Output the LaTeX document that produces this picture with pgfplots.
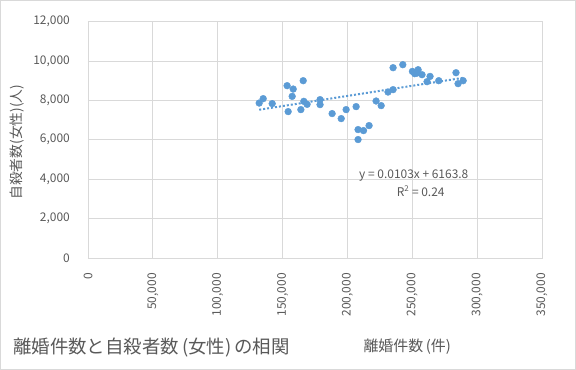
\documentclass[border=0pt]{standalone}
\usepackage{pgfplots}
\pgfplotsset{compat=1.18}
\usepackage{fontspec}
\setmainfont{Noto Sans CJK JP}
\definecolor{dotblue}{HTML}{5B9BD5}
\definecolor{gridgray}{HTML}{D9D9D9}
\definecolor{txtgray}{HTML}{595959}
\begin{document}
\begin{tikzpicture}
\useasboundingbox (-88bp,-112bp) rectangle (488bp,258bp);
\draw[gridgray, line width=0.8bp] (-87.5bp,-111.5bp) rectangle (487.5bp,257.5bp);
\begin{axis}[
  at={(0,0)}, anchor=south west,
  scale only axis, width=454bp, height=236.5bp,
  xmin=0, xmax=350000, ymin=0, ymax=12000,
  xtick={0,50000,100000,150000,200000,250000,300000,350000}, ytick={0,2000,4000,6000,8000,10000,12000},
  scaled x ticks=false, scaled y ticks=false,
  /pgf/number format/.cd, fixed, precision=0, 1000 sep={,}, assume math mode=true, /pgfplots/.cd,
  grid=major, major grid style={gridgray, line width=0.8bp},
  axis line style={gridgray, line width=0.8bp},
  major tick length=0pt,
  tick label style={font=\fontsize{12}{14}\selectfont, text=txtgray},
  xticklabel style={rotate=90, anchor=east, inner sep=0pt},
  xticklabel shift=15bp,
  yticklabel style={anchor=east, inner sep=0pt},
  yticklabel shift=18bp,
  xlabel={離婚件数\,(件)},
  xlabel style={at={(axis description cs:0.703,-0.376)}, anchor=center, font=\fontsize{15}{17}\selectfont, text=txtgray},
  ylabel={自殺者数(女性)(人)},
  ylabel style={at={(axis description cs:-0.156,0.49)}, anchor=center, rotate=0, font=\fontsize{13.8}{16}\selectfont, text=txtgray},
  clip=false,
]
\addplot[only marks, mark=*, mark size=3.4bp, mark options={draw=dotblue, fill=dotblue}] coordinates {
(131970,7863) (135050,8086) (142000,7833) (153500,8744) (154300,7428)
(158200,8572) (157400,8203) (165900,8997) (164100,7529) (166400,7949)
(168900,7797) (178900,8035) (178900,7782) (188200,7327) (195200,7073)
(199000,7529) (206700,7681) (208200,6516) (208200,6010) (212400,6465)
(216700,6718) (222100,7965) (226000,7732) (231300,8421) (235200,8542)
(235200,9656) (242700,9808) (250100,9468) (251900,9352) (254500,9554)
(253700,9383) (257500,9301) (263700,9215) (261400,8947) (270400,8997)
(283700,9402) (285300,8846) (289200,8997)
};
\addplot[dotblue, line width=2bp, dash pattern=on 2bp off 2bp] coordinates {(131970,7523) (289200,9142)};
\node[font=\fontsize{12}{14}\selectfont, text=txtgray] at (axis cs:251150,4200) {y = 0.0103x + 6163.8};
\node[font=\fontsize{12}{14}\selectfont, text=txtgray] at (axis cs:256500,3392) {R\textsuperscript{2} = 0.24};
\end{axis}
\node[anchor=west, font=\fontsize{18.5}{20}\selectfont, text=txtgray, inner sep=0pt] at (-75bp,-90bp) {離婚件数と自殺者数\,(女性)\,の相関};
\end{tikzpicture}
\end{document}
